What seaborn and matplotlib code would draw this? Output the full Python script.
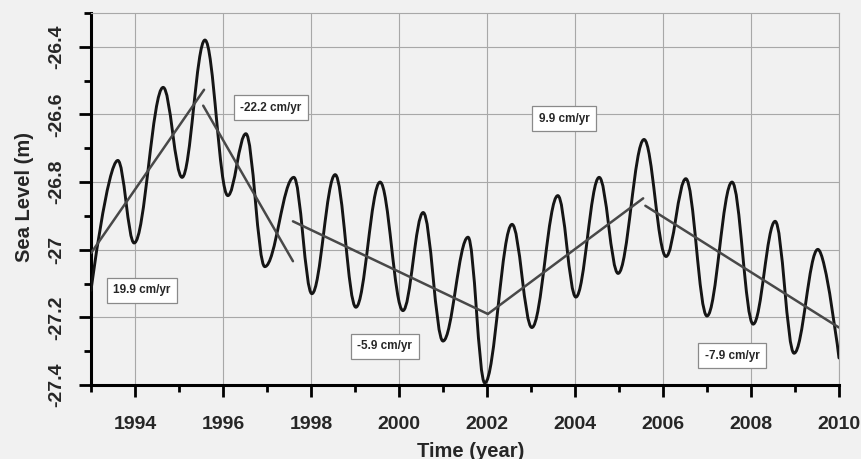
import numpy as np
import pandas as pd
import seaborn as sns
import matplotlib
matplotlib.use('Agg')
import matplotlib.pyplot as plt
from matplotlib.path import Path
from matplotlib.patches import PathPatch
from matplotlib.ticker import MultipleLocator

# sea level curve, turning points
years = [1993.0, 1993.61, 1993.98, 1994.64, 1995.07, 1995.59, 1996.11, 1996.52,
         1996.95, 1997.61, 1998.02, 1998.55, 1999.02, 1999.57, 2000.09, 2000.55,
         2001.0, 2001.57, 2001.95, 2002.57, 2003.02, 2003.61, 2004.02, 2004.55,
         2004.98, 2005.57, 2006.07, 2006.52, 2007.0, 2007.57, 2008.05, 2008.55,
         2008.98, 2009.52, 2010.0]
level = [-27.12, -26.736, -26.98, -26.52, -26.786, -26.38, -26.84, -26.657,
         -27.05, -26.786, -27.13, -26.778, -27.17, -26.80, -27.18, -26.89,
         -27.27, -26.963, -27.394, -26.925, -27.23, -26.84, -27.14, -26.786,
         -27.07, -26.674, -27.02, -26.79, -27.196, -26.80, -27.22, -26.916,
         -27.306, -26.999, -27.32]

# trend segments (start / end)
trend_seg = [1, 1, 2, 2, 3, 3, 4, 4, 5, 5]
trend_year = [1993.0, 1995.57, 1995.55, 1997.59, 1997.59, 2002.02, 2002.02, 2005.55, 2005.6, 2010.0]
trend_level = [-27.01, -26.527, -26.574, -27.034, -26.916, -27.19, -27.19, -26.848, -26.87, -27.23]

rate_labels = ['19.9 cm/yr', '-22.2 cm/yr', '-5.9 cm/yr', '9.9 cm/yr', '-7.9 cm/yr']
label_year = [1994.16, 1997.09, 1999.68, 2003.75, 2007.57]
label_level = [-27.12, -26.58, -27.285, -26.612, -27.314]

yticks = [-27.4, -27.2, -27.0, -26.8, -26.6, -26.4]
ytick_labels = ['-27.4', '-27.2', '-27', '-26.8', '-26.6', '-26.4']
xticks = [1994, 1996, 1998, 2000, 2002, 2004, 2006, 2008, 2010]

sns.set_style('ticks')
plt.rcParams['font.family'] = ['Liberation Sans', 'DejaVu Sans']

bg = '#f1f1f1'
fig = plt.figure(figsize=(8.61, 4.59), dpi=100, facecolor=bg)
ax = fig.add_axes([0.1057, 0.1612, 0.8687, 0.8105], facecolor=bg)

# smooth curve through the turning points (horizontal tangents at peaks/troughs)
verts = [(years[0], level[0])]
codes = [Path.MOVETO]
n = len(years)
for i in range(n - 1):
    d = years[i + 1] - years[i]
    k0 = 0.0 if i == 0 else 0.37
    k1 = 0.0 if i == n - 2 else 0.37
    verts += [(years[i] + d * k0, level[i]),
              (years[i + 1] - d * k1, level[i + 1]),
              (years[i + 1], level[i + 1])]
    codes += [Path.CURVE4] * 3
ax.add_patch(PathPatch(Path(verts, codes), fill=False, ec='#151515', lw=2.1,
                       capstyle='round', joinstyle='round', zorder=3))

trend = pd.DataFrame({'seg': trend_seg, 'year': trend_year, 'level': trend_level})
sns.lineplot(data=trend, x='year', y='level', units='seg', estimator=None,
             color='#484848', lw=1.8, ax=ax, zorder=4)

for txt, xx, yy in zip(rate_labels, label_year, label_level):
    ax.text(xx, yy, txt, ha='center', va='center', fontsize=8.5, fontweight='bold',
            zorder=5, bbox=dict(boxstyle='square,pad=0.55', fc='white', ec='#8a8a8a', lw=0.9))

ax.set_xlim(1993, 2010)
ax.set_ylim(-27.4, -26.3)
ax.set_xticks(xticks)
ax.set_xticklabels([str(x) for x in xticks])
ax.xaxis.set_minor_locator(MultipleLocator(1))
ax.set_yticks(yticks)
ax.set_yticklabels(ytick_labels, rotation=90, va='center')
ax.yaxis.set_minor_locator(MultipleLocator(0.1))

ax.grid(which='major', color='#a8a8a8', lw=0.8)
ax.set_axisbelow(True)
for side in ['left', 'bottom']:
    ax.spines[side].set_linewidth(2.2)
    ax.spines[side].set_color('black')
for side in ['top', 'right']:
    ax.spines[side].set_visible(True)
    ax.spines[side].set_linewidth(0.8)
    ax.spines[side].set_color('#a8a8a8')

ax.tick_params(which='major', direction='out', length=8.5, width=2.0, color='black',
               labelsize=14, pad=14)
ax.tick_params(which='minor', direction='out', length=5, width=2.0, color='black')
ax.tick_params(axis='y', which='major', pad=10)
for lab in ax.get_xticklabels() + ax.get_yticklabels():
    lab.set_fontweight('bold')

ax.set_xlabel('Time (year)', fontsize=14.5, fontweight='bold')
ax.set_ylabel('Sea Level (m)', fontsize=14.5, fontweight='bold')
ax.xaxis.set_label_coords(0.508, -0.152)
ax.xaxis.label.set_va('top')
ax.yaxis.set_label_coords(-0.076, 0.505)

plt.savefig('out.png', dpi=100, facecolor=bg)
